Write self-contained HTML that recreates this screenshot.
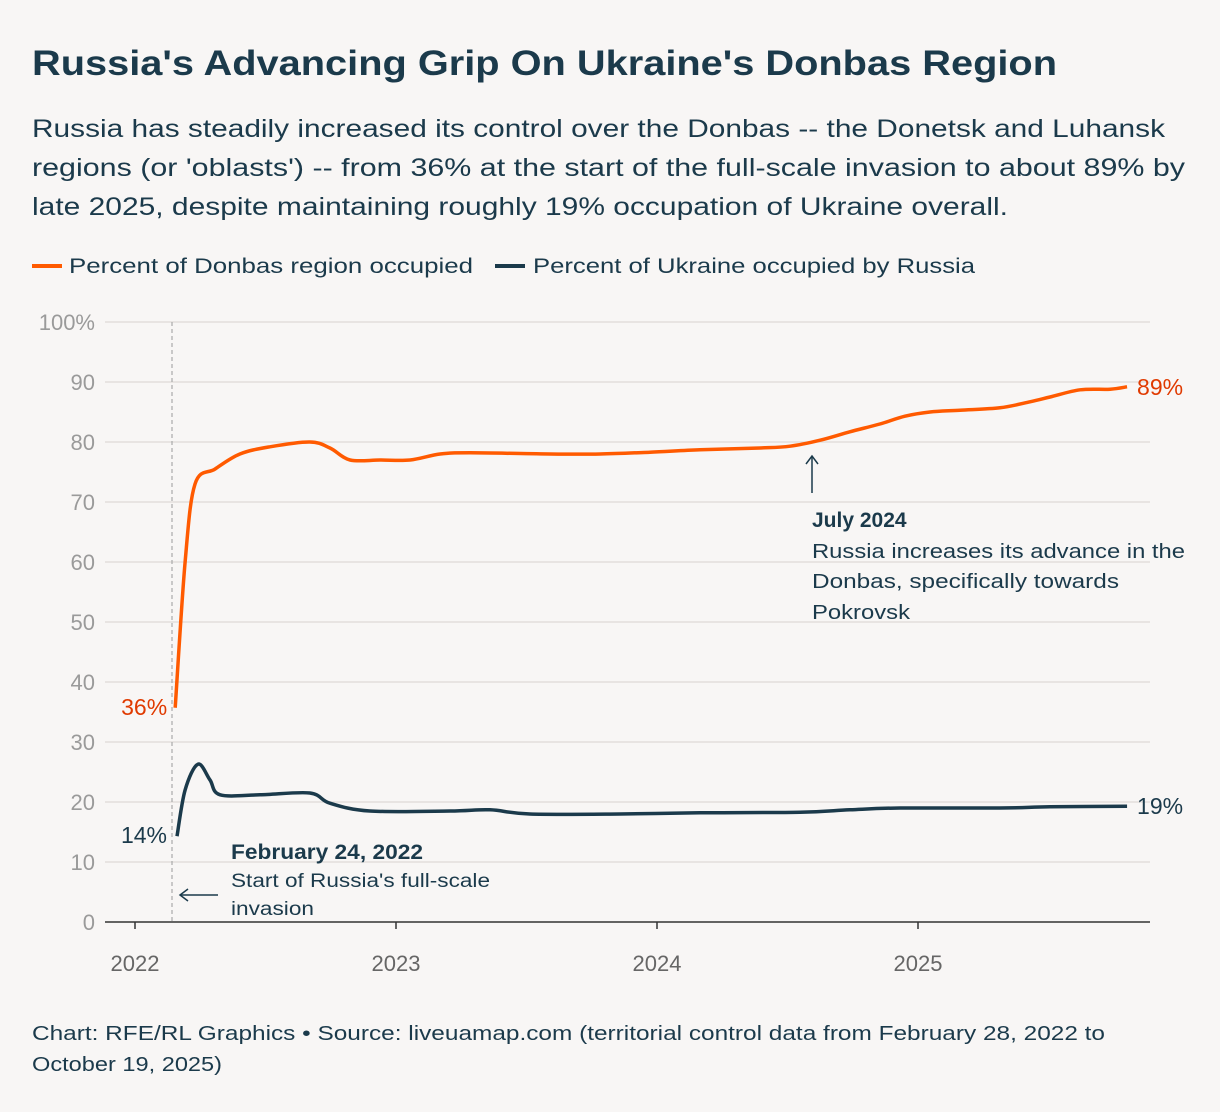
<!DOCTYPE html>
<html><head><meta charset="utf-8">
<style>
body{margin:0;background:#f8f6f5;font-family:"Liberation Sans",sans-serif;}
#wrap{position:relative;width:1220px;height:1112px;background:#f8f6f5;overflow:hidden;}
svg text{font-family:"Liberation Sans",sans-serif;}
</style></head>
<body>
<div id="wrap">
<svg id="chart" width="1220" height="1112">
<text x="32" y="75" font-size="35" font-weight="bold" fill="#1b3a4b" textLength="1025" lengthAdjust="spacingAndGlyphs">Russia's Advancing Grip On Ukraine's Donbas Region</text>
<g fill="#1b3a4b" font-size="25">
<text x="32" y="137" textLength="1133" lengthAdjust="spacingAndGlyphs">Russia has steadily increased its control over the Donbas -- the Donetsk and Luhansk</text>
<text x="32" y="176" textLength="1153" lengthAdjust="spacingAndGlyphs">regions (or 'oblasts') -- from 36% at the start of the full-scale invasion to about 89% by</text>
<text x="32" y="215" textLength="976" lengthAdjust="spacingAndGlyphs">late 2025, despite maintaining roughly 19% occupation of Ukraine overall.</text>
</g>
<g>
<line x1="32" y1="266" x2="62" y2="266" stroke="#ff5a00" stroke-width="4"/>
<text x="69" y="273" font-size="21" fill="#1b3a4b" textLength="404" lengthAdjust="spacingAndGlyphs">Percent of Donbas region occupied</text>
<line x1="495" y1="266" x2="525" y2="266" stroke="#1b3a4b" stroke-width="4"/>
<text x="533" y="273" font-size="21" fill="#1b3a4b" textLength="442" lengthAdjust="spacingAndGlyphs">Percent of Ukraine occupied by Russia</text>
</g>
<g id="grid"></g>
<g id="marks"></g>
<text x="32" y="1040" font-size="20" fill="#1b3a4b" textLength="1073" lengthAdjust="spacingAndGlyphs">Chart: RFE/RL Graphics • Source: liveuamap.com (territorial control data from February 28, 2022 to</text>
<text x="32" y="1071" font-size="20" fill="#1b3a4b" textLength="190" lengthAdjust="spacingAndGlyphs">October 19, 2025)</text>
</svg>
</div>
<script>
const yTicks=[0,10,20,30,40,50,60,70,80,90,100];
const xTicks=[2022,2023,2024,2025];
const donbasDates=[2022.154,2022.192,2022.23,2022.307,2022.402,2022.517,2022.67,2022.747,2022.824,2022.939,2023.054,2023.169,2023.284,2023.590,2023.782,2023.973,2024.165,2024.395,2024.51,2024.625,2024.739,2024.854,2024.950,2025.046,2025.161,2025.314,2025.429,2025.506,2025.621,2025.736,2025.801];
const donbasValues=[35.7,60,73,75.5,78,79.2,80,79,77,77,77,78,78.2,78,78,78.3,78.7,79,79.3,80.3,81.7,83,84.3,85,85.3,85.7,86.7,87.5,88.7,88.8,89.2];
const ukraineDates=[2022.161,2022.192,2022.241,2022.287,2022.326,2022.479,2022.67,2022.747,2022.9,2023.207,2023.36,2023.513,2023.858,2024.165,2024.548,2024.739,2024.931,2025.314,2025.506,2025.801];
const ukraineValues=[14.3,22,26.3,23.7,21.2,21.2,21.5,19.8,18.5,18.5,18.7,18,18,18.2,18.3,18.7,19,19,19.2,19.3];
const L=105,R=1150,T=322,B=922;
const xs=v=>135+(v-2022)*261;
const ys=v=>B-(v/100)*(B-T);
const NS="http://www.w3.org/2000/svg";
function mk(tag,attrs,parent,txt){const e=document.createElementNS(NS,tag);for(const k in attrs)e.setAttribute(k,attrs[k]);if(txt!=null)e.textContent=txt;parent.appendChild(e);return e;}
const grid=document.getElementById('grid'),marks=document.getElementById('marks');
yTicks.forEach(t=>{
 if(t>0){const g=mk('line',{x1:L,x2:R,y1:ys(t),y2:ys(t),stroke:'#dddad8','stroke-width':1.2},grid);
 
 }
 const tx=mk('text',{x:95,y:ys(t)+8,'text-anchor':'end','font-size':22,fill:'#9a9a9a'},grid,t===100?'100%':String(t));
 
 
});
const ax=mk('line',{x1:L,x2:R,y1:B,y2:B,stroke:'#333','stroke-width':1.5},grid);


xTicks.forEach(t=>{
 const tk=mk('line',{x1:xs(t),x2:xs(t),y1:B,y2:B+7,stroke:'#333','stroke-width':1.5},grid);
 
 
 const tx=mk('text',{x:xs(t),y:B+49,'text-anchor':'middle','font-size':22,fill:'#666'},grid,String(t));
 
 
});
const inv=mk('line',{x1:172,x2:172,y1:T,y2:B,stroke:'#aaa','stroke-width':1.2,'stroke-dasharray':'4,3'},grid);


function path(xv,yv){
 const p=xv.map((x,i)=>[xs(x),ys(yv[i])]);let d='M'+p[0][0]+','+p[0][1];
 for(let i=0;i<p.length-1;i++){const p0=p[i-1]||p[i],p1=p[i],p2=p[i+1],p3=p[i+2]||p2;
  const c1=[p1[0]+(p2[0]-p0[0])/6,p1[1]+(p2[1]-p0[1])/6],c2=[p2[0]-(p3[0]-p1[0])/6,p2[1]-(p3[1]-p1[1])/6];
  d+=` C${c1[0]},${c1[1]} ${c2[0]},${c2[1]} ${p2[0]},${p2[1]}`;}
 return d;}
const l1=mk('path',{d:path(donbasDates,donbasValues),fill:'none',stroke:'#ff5a00','stroke-width':3.5,'stroke-linejoin':'round'},marks);


const l2=mk('path',{d:path(ukraineDates,ukraineValues),fill:'none',stroke:'#1b3a4b','stroke-width':3.5,'stroke-linejoin':'round'},marks);


function lab(x,y,t,anchor,col,name){const e=mk('text',{x:x,y:y,'text-anchor':anchor,'font-size':23,fill:col},marks,t);
 
 }
const n=donbasValues.length-1,m=ukraineValues.length-1;
lab(xs(donbasDates[0])-8,ys(donbasValues[0])+7,Math.round(donbasValues[0])+'%','end','#e03a00','donbas-start-label');
lab(xs(donbasDates[n])+10,ys(donbasValues[n])+8,Math.round(donbasValues[n])+'%','start','#e03a00','donbas-end-label');
lab(xs(ukraineDates[0])-10,ys(ukraineValues[0])+7,Math.round(ukraineValues[0])+'%','end','#1b3a4b','ukraine-start-label');
lab(xs(ukraineDates[m])+10,ys(ukraineValues[m])+8,Math.round(ukraineValues[m])+'%','start','#1b3a4b','ukraine-end-label');
</script>
<svg width="1220" height="1112" style="position:absolute;left:0;top:0">
<g>
<line x1="812" y1="493" x2="812" y2="456" stroke="#1b3a4b" stroke-width="1.5"/>
<path d="M806,464 L812,456 L818,464" fill="none" stroke="#1b3a4b" stroke-width="1.5"/>
<text x="812" y="527" font-size="21" font-weight="bold" fill="#1b3a4b" font-family="Liberation Sans">July 2024</text>
<text x="812" y="558" font-size="20" fill="#1b3a4b" font-family="Liberation Sans" textLength="373" lengthAdjust="spacingAndGlyphs">Russia increases its advance in the</text>
<text x="812" y="588" font-size="20" fill="#1b3a4b" font-family="Liberation Sans" textLength="307" lengthAdjust="spacingAndGlyphs">Donbas, specifically towards</text>
<text x="812" y="619" font-size="20" fill="#1b3a4b" font-family="Liberation Sans" textLength="98" lengthAdjust="spacingAndGlyphs">Pokrovsk</text>
</g>
<g>
<text x="231" y="859" font-size="21" font-weight="bold" fill="#1b3a4b" font-family="Liberation Sans" textLength="192" lengthAdjust="spacingAndGlyphs">February 24, 2022</text>
<text x="231" y="887" font-size="19" fill="#1b3a4b" font-family="Liberation Sans" textLength="259" lengthAdjust="spacingAndGlyphs">Start of Russia's full-scale</text>
<text x="231" y="915" font-size="19" fill="#1b3a4b" font-family="Liberation Sans" textLength="83" lengthAdjust="spacingAndGlyphs">invasion</text>
<line x1="180" y1="895" x2="218" y2="895" stroke="#1b3a4b" stroke-width="1.5"/>
<path d="M188,889 L180,895 L188,901" fill="none" stroke="#1b3a4b" stroke-width="1.5"/>
</g>
</svg>
</body></html>
